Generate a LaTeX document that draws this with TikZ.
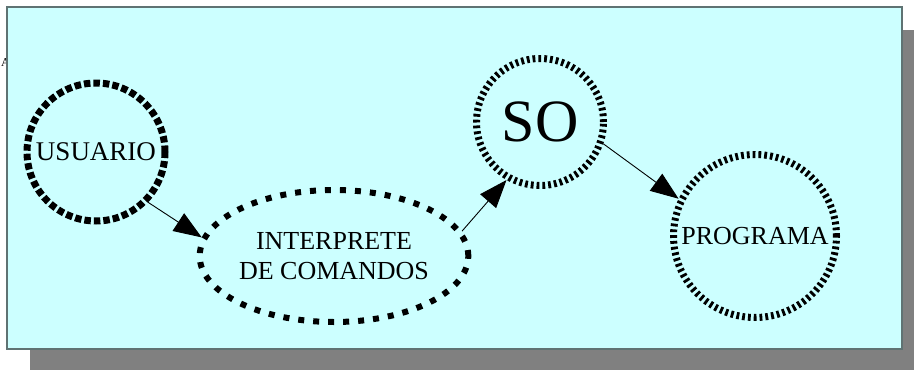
\documentclass[tikz,border=0pt]{standalone}
\usepackage{fontspec}
\setmainfont{Liberation Serif}
\usetikzlibrary{arrows.meta,shapes.geometric}
\definecolor{panel}{HTML}{CCFFFF}
\definecolor{panelrule}{HTML}{5F7373}
\definecolor{shadowgray}{HTML}{808080}
\tikzset{
  blockdots/.style={circle, draw, line width=7pt, dash pattern=on 6.5pt off 3pt, inner sep=0pt, outer sep=3.5pt},
  tickdots/.style={circle, draw, line width=7pt, dash pattern=on 2.8pt off 3pt, inner sep=0pt, outer sep=3.5pt},
  ovaldots/.style={ellipse, draw, line width=6pt, dash pattern=on 6pt off 9pt, inner sep=0pt, outer sep=3pt},
  flow/.style={line width=0.9pt, -{Triangle[length=28pt,width=21pt]}},
}
\begin{document}
\begin{tikzpicture}[x=1pt, y=-1pt]
  \useasboundingbox (0,0) rectangle (914,370);
  % drop shadow and panel
  \fill[shadowgray] (30,30) rectangle (914,370);
  \node[anchor=base east, font=\fontsize{12}{14}\selectfont, inner sep=0pt] (stray) at (10,66) {A};
  \filldraw[fill=panel, draw=panelrule, line width=1.5pt] (7,7) rectangle (902,349);
  % states
  \node[blockdots, minimum size=138pt, font=\fontsize{27}{30}\selectfont] (usr) at (96,152) {USUARIO};
  \node[ovaldots, minimum width=252pt, minimum height=132pt, align=center,
        font=\fontsize{26}{30}\selectfont] (cmd) at (334,256) {INTERPRETE\\DE COMANDOS};
  \node[tickdots, minimum size=127pt, font=\fontsize{60}{66}\selectfont] (so) at (540,122) {SO};
  \node[tickdots, minimum size=163pt, font=\fontsize{26}{30}\selectfont] (prg) at (755,236) {PROGRAMA};
  % transitions
  \draw[flow] (usr.-44) -- (cmd.172);
  \draw[flow] (cmd.11) -- (so.240);
  \draw[flow] (so.-19) -- (prg.154);
\end{tikzpicture}
\end{document}
